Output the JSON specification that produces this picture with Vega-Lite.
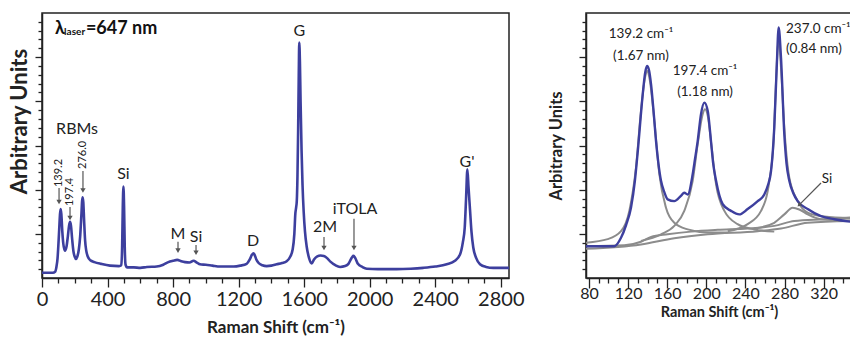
{
  "$schema": "https://vega.github.io/schema/vega-lite/v6.json",
  "padding": {"left": 7, "top": 12, "right": 0, "bottom": 0},
  "background": "white",
  "config": {
    "font": "Lato",
    "view": {"stroke": "#222", "strokeWidth": 1.5},
    "axis": {"grid": false, "domainColor": "#222", "domainWidth": 1.5, "tickColor": "#222", "tickWidth": 1.3, "labelColor": "#222", "titleColor": "#222", "labelFont": "Lato", "titleFont": "Lato", "labelOverlap": false, "labelFlush": false}
  },
  "spacing": 22,
  "datasets": {
    "left": [
      {"shift":0,"intensity":0.12},{"shift":40,"intensity":0.12},{"shift":67,"intensity":0.12},{"shift":80,"intensity":0.14},{"shift":88,"intensity":0.25},{"shift":95,"intensity":0.45},{"shift":100,"intensity":0.75},{"shift":105,"intensity":1.1},{"shift":110,"intensity":1.45},{"shift":114,"intensity":1.56},{"shift":118,"intensity":1.45},{"shift":124,"intensity":1.05},{"shift":130,"intensity":0.78},{"shift":140,"intensity":0.62},{"shift":150,"intensity":0.72},{"shift":158,"intensity":0.95},{"shift":165,"intensity":1.18},{"shift":171,"intensity":1.27},{"shift":177,"intensity":1.18},{"shift":184,"intensity":0.88},{"shift":192,"intensity":0.6},{"shift":200,"intensity":0.48},{"shift":207,"intensity":0.43},{"shift":215,"intensity":0.48},{"shift":225,"intensity":0.65},{"shift":233,"intensity":0.95},{"shift":240,"intensity":1.4},{"shift":245,"intensity":1.75},{"shift":248,"intensity":1.83},{"shift":252,"intensity":1.72},{"shift":257,"intensity":1.3},{"shift":263,"intensity":0.85},{"shift":270,"intensity":0.62},{"shift":280,"intensity":0.48},{"shift":295,"intensity":0.4},{"shift":320,"intensity":0.36},{"shift":360,"intensity":0.32},{"shift":415,"intensity":0.28},{"shift":470,"intensity":0.27},{"shift":484,"intensity":0.29},{"shift":489,"intensity":0.7},{"shift":493,"intensity":1.6},{"shift":497,"intensity":2.07},{"shift":501,"intensity":1.6},{"shift":505,"intensity":0.7},{"shift":510,"intensity":0.3},{"shift":520,"intensity":0.24},{"shift":560,"intensity":0.24},{"shift":600,"intensity":0.23},{"shift":640,"intensity":0.25},{"shift":700,"intensity":0.26},{"shift":740,"intensity":0.3},{"shift":771,"intensity":0.36},{"shift":800,"intensity":0.39},{"shift":825,"intensity":0.41},{"shift":850,"intensity":0.38},{"shift":873,"intensity":0.36},{"shift":900,"intensity":0.35},{"shift":925,"intensity":0.39},{"shift":945,"intensity":0.35},{"shift":964,"intensity":0.31},{"shift":1000,"intensity":0.3},{"shift":1040,"intensity":0.28},{"shift":1086,"intensity":0.26},{"shift":1130,"intensity":0.26},{"shift":1170,"intensity":0.26},{"shift":1210,"intensity":0.28},{"shift":1249,"intensity":0.32},{"shift":1268,"intensity":0.42},{"shift":1282,"intensity":0.53},{"shift":1290,"intensity":0.56},{"shift":1298,"intensity":0.52},{"shift":1308,"intensity":0.42},{"shift":1322,"intensity":0.34},{"shift":1345,"intensity":0.29},{"shift":1371,"intensity":0.27},{"shift":1400,"intensity":0.28},{"shift":1432,"intensity":0.31},{"shift":1465,"intensity":0.34},{"shift":1493,"intensity":0.38},{"shift":1513,"intensity":0.47},{"shift":1530,"intensity":0.65},{"shift":1540,"intensity":1.0},{"shift":1546,"intensity":1.45},{"shift":1551,"intensity":1.6},{"shift":1555,"intensity":1.75},{"shift":1559,"intensity":2.3},{"shift":1563,"intensity":3.3},{"shift":1567,"intensity":4.6},{"shift":1570,"intensity":5.33},{"shift":1574,"intensity":4.9},{"shift":1578,"intensity":4.0},{"shift":1584,"intensity":2.9},{"shift":1590,"intensity":2.1},{"shift":1597,"intensity":1.5},{"shift":1605,"intensity":1.05},{"shift":1615,"intensity":0.72},{"shift":1630,"intensity":0.45},{"shift":1646,"intensity":0.33},{"shift":1660,"intensity":0.42},{"shift":1680,"intensity":0.49},{"shift":1700,"intensity":0.51},{"shift":1720,"intensity":0.5},{"shift":1740,"intensity":0.45},{"shift":1760,"intensity":0.37},{"shift":1790,"intensity":0.29},{"shift":1819,"intensity":0.25},{"shift":1850,"intensity":0.27},{"shift":1870,"intensity":0.32},{"shift":1886,"intensity":0.43},{"shift":1900,"intensity":0.5},{"shift":1912,"intensity":0.45},{"shift":1928,"intensity":0.32},{"shift":1955,"intensity":0.25},{"shift":1982,"intensity":0.21},{"shift":2050,"intensity":0.2},{"shift":2165,"intensity":0.2},{"shift":2250,"intensity":0.21},{"shift":2327,"intensity":0.23},{"shift":2400,"intensity":0.26},{"shift":2470,"intensity":0.31},{"shift":2520,"intensity":0.39},{"shift":2551,"intensity":0.53},{"shift":2568,"intensity":0.8},{"shift":2580,"intensity":1.15},{"shift":2588,"intensity":1.8},{"shift":2596,"intensity":2.46},{"shift":2603,"intensity":2.05},{"shift":2612,"intensity":1.55},{"shift":2621,"intensity":1.05},{"shift":2632,"intensity":0.69},{"shift":2650,"intensity":0.45},{"shift":2673,"intensity":0.31},{"shift":2710,"intensity":0.25},{"shift":2754,"intensity":0.23},{"shift":2800,"intensity":0.23},{"shift":2850,"intensity":0.23}
    ],
    "leftLabels": [
      {"x":214,"y":3.37,"t":"RBMs"},{"x":497,"y":2.35,"t":"Si"},{"x":830,"y":1.0,"t":"M"},{"x":940,"y":0.93,"t":"Si"},{"x":1288,"y":0.84,"t":"D"},{"x":1570,"y":5.59,"t":"G"},{"x":1727,"y":1.15,"t":"2M"},{"x":1910,"y":1.56,"t":"iTOLA"},{"x":2594,"y":2.63,"t":"G'"}
    ],
    "rbmLabels": [
      {"x":104,"y":2.06,"t":"139.2"},{"x":171,"y":1.63,"t":"197.4"},{"x":250,"y":2.47,"t":"276.0"}
    ],
    "leftArrows": [
      {"x":104,"y":2.04,"y2":1.72},{"x":171,"y":1.61,"y2":1.36},{"x":250,"y":2.42,"y2":1.98},{"x":830,"y":0.82,"y2":0.62},{"x":940,"y":0.75,"y2":0.57},{"x":1721,"y":0.93,"y2":0.68},{"x":1904,"y":1.34,"y2":0.68}
    ],
    "lambda": [{"x":79,"y":5.64,"t":"λ"}],
    "laser": [{"x":135,"y":5.56,"t":"laser"}],
    "nm": [{"x":268,"y":5.64,"t":"=647 nm"}],
    "right": [
      {"shift":77,"intensity":0.72},{"shift":90,"intensity":0.72},{"shift":106,"intensity":0.72},{"shift":112.8,"intensity":0.91},{"shift":118,"intensity":1.2},{"shift":123,"intensity":1.59},{"shift":127,"intensity":2.2},{"shift":130,"intensity":2.88},{"shift":135,"intensity":4.16},{"shift":137.5,"intensity":4.65},{"shift":139.4,"intensity":4.8},{"shift":141.5,"intensity":4.7},{"shift":143.5,"intensity":4.39},{"shift":146,"intensity":3.8},{"shift":148.6,"intensity":3.1},{"shift":151,"intensity":2.6},{"shift":153.7,"intensity":2.2},{"shift":157,"intensity":1.95},{"shift":160.5,"intensity":1.78},{"shift":167.3,"intensity":1.74},{"shift":174.1,"intensity":1.86},{"shift":177.5,"intensity":1.93},{"shift":181,"intensity":1.89},{"shift":186.1,"intensity":2.35},{"shift":188.5,"intensity":2.7},{"shift":191.2,"intensity":3.1},{"shift":194.6,"intensity":3.71},{"shift":198,"intensity":3.97},{"shift":201.5,"intensity":3.78},{"shift":204.8,"intensity":3.1},{"shift":207,"intensity":2.6},{"shift":210,"intensity":2.2},{"shift":216.8,"intensity":1.67},{"shift":225.3,"intensity":1.52},{"shift":233.7,"intensity":1.44},{"shift":242.3,"intensity":1.56},{"shift":252.6,"intensity":1.74},{"shift":259.3,"intensity":1.89},{"shift":263,"intensity":2.1},{"shift":266.2,"intensity":2.42},{"shift":269.5,"intensity":3.4},{"shift":272,"intensity":4.76},{"shift":274,"intensity":5.67},{"shift":276.4,"intensity":4.99},{"shift":279.8,"intensity":3.25},{"shift":282,"intensity":2.6},{"shift":284.9,"intensity":2.2},{"shift":289,"intensity":1.92},{"shift":293.5,"intensity":1.74},{"shift":303.7,"intensity":1.56},{"shift":317.3,"intensity":1.4},{"shift":331,"intensity":1.33},{"shift":349,"intensity":1.27}
    ],
    "fits": [
      {"series":"base1","shift":77,"intensity":0.72},{"series":"base1","shift":116.2,"intensity":0.74},{"series":"base1","shift":133.2,"intensity":0.82},{"series":"base1","shift":143.5,"intensity":0.93},{"series":"base1","shift":160.5,"intensity":0.99},{"series":"base1","shift":184.4,"intensity":1.05},{"series":"base1","shift":211.7,"intensity":1.09},{"series":"base1","shift":242.3,"intensity":1.12},{"series":"base1","shift":269.5,"intensity":1.18},{"series":"base1","shift":290,"intensity":1.29},{"series":"base1","shift":320.7,"intensity":1.33},{"series":"base1","shift":349,"intensity":1.37},
      {"series":"base2","shift":77,"intensity":0.66},{"series":"base2","shift":133.2,"intensity":0.76},{"series":"base2","shift":167.3,"intensity":0.9},{"series":"base2","shift":201.5,"intensity":0.99},{"series":"base2","shift":252.6,"intensity":1.06},{"series":"base2","shift":276.4,"intensity":1.12},{"series":"base2","shift":303.7,"intensity":1.25},{"series":"base2","shift":349,"intensity":1.29},
      {"series":"c139","shift":77,"intensity":0.8},{"series":"c139","shift":99.2,"intensity":0.88},{"series":"c139","shift":112.8,"intensity":1.06},{"series":"c139","shift":121.3,"intensity":1.52},{"series":"c139","shift":128.1,"intensity":2.5},{"series":"c139","shift":133.2,"intensity":3.78},{"series":"c139","shift":137.3,"intensity":4.53},{"series":"c139","shift":139.4,"intensity":4.69},{"series":"c139","shift":142.1,"intensity":4.5},{"series":"c139","shift":146.9,"intensity":3.55},{"series":"c139","shift":152,"intensity":2.35},{"series":"c139","shift":158.8,"intensity":1.59},{"series":"c139","shift":167.3,"intensity":1.25},{"series":"c139","shift":181,"intensity":1.1},{"series":"c139","shift":201.5,"intensity":1.03},{"series":"c139","shift":222,"intensity":1.03},
      {"series":"c197","shift":133.2,"intensity":0.84},{"series":"c197","shift":153.7,"intensity":0.99},{"series":"c197","shift":167.3,"intensity":1.18},{"series":"c197","shift":177.5,"intensity":1.52},{"series":"c197","shift":186.1,"intensity":2.2},{"series":"c197","shift":191.2,"intensity":3.03},{"series":"c197","shift":196.3,"intensity":3.71},{"series":"c197","shift":198.7,"intensity":3.82},{"series":"c197","shift":201.5,"intensity":3.67},{"series":"c197","shift":205.5,"intensity":2.95},{"series":"c197","shift":210,"intensity":2.12},{"series":"c197","shift":218.5,"intensity":1.52},{"series":"c197","shift":232,"intensity":1.22},{"series":"c197","shift":249.1,"intensity":1.1},{"series":"c197","shift":269.5,"intensity":1.05},
      {"series":"c276","shift":221.9,"intensity":1.06},{"series":"c276","shift":242.3,"intensity":1.22},{"series":"c276","shift":256,"intensity":1.52},{"series":"c276","shift":264.5,"intensity":2.2},{"series":"c276","shift":269,"intensity":3.17},{"series":"c276","shift":271.6,"intensity":4.61},{"series":"c276","shift":274,"intensity":5.44},{"series":"c276","shift":276.4,"intensity":4.76},{"series":"c276","shift":279.8,"intensity":3.4},{"series":"c276","shift":284.9,"intensity":2.27},{"series":"c276","shift":293.5,"intensity":1.74},{"series":"c276","shift":303.7,"intensity":1.48},{"series":"c276","shift":320.7,"intensity":1.39},{"series":"c276","shift":349,"intensity":1.35},
      {"series":"cSi","shift":249.1,"intensity":1.12},{"series":"cSi","shift":269.5,"intensity":1.25},{"series":"cSi","shift":279.8,"intensity":1.44},{"series":"cSi","shift":288.3,"intensity":1.59},{"series":"cSi","shift":295.1,"intensity":1.55},{"series":"cSi","shift":303.7,"intensity":1.44},{"series":"cSi","shift":317.3,"intensity":1.33},{"series":"cSi","shift":349,"intensity":1.3}
    ],
    "rightCenter": [
      {"x":133.2,"y":5.52,"t":"139.2 cm⁻¹"},{"x":133.2,"y":5.03,"t":"(1.67 nm)"},{"x":198.7,"y":4.69,"t":"197.4 cm⁻¹"},{"x":198.7,"y":4.21,"t":"(1.18 nm)"},{"x":323.4,"y":2.24,"t":"Si"}
    ],
    "rightLeft": [
      {"x":281.5,"y":5.64,"t":"237.0 cm⁻¹"},{"x":281.5,"y":5.18,"t":"(0.84 nm)"}
    ],
    "pointer": [{"x":317.3,"y":2.15,"x2":294.8,"y2":1.65}]
  },
  "hconcat": [
    {
      "width": 467,
      "height": 265,
      "resolve": {"axis": {"x": "independent", "y": "independent"}},
      "layer": [
        {
          "data": {"name": "left"},
          "mark": {"type": "line", "color": "#3d3f9e", "strokeWidth": 2.6, "interpolate": "monotone"},
          "encoding": {
            "x": {"field": "shift", "type": "quantitative", "scale": {"domain": [0, 2850], "nice": false, "zero": false},
              "axis": {"orient": "bottom", "title": "Raman Shift (cm⁻¹)", "titleFontSize": 17, "titleFontWeight": "bold", "titlePadding": 10,
                "values": [0,400,800,1200,1600,2000,2400,2800], "format": "d", "labelFontSize": 20, "labelPadding": 2, "tickSize": 9}},
            "y": {"field": "intensity", "type": "quantitative", "scale": {"domain": [0, 6], "nice": false, "zero": false},
              "axis": {"orient": "left", "title": "Arbitrary Units", "titleFontSize": 22, "titleFontWeight": "bold", "titlePadding": 3, "titleY": 108, "titleAlign": "center", "labels": false,
                "values": [1,2,3,4,5], "tickSize": 7}}
          }
        },
        {
          "data": {"name": "leftArrows"},
          "mark": {"type": "rule", "color": "#555", "strokeWidth": 1.2},
          "encoding": {
            "x": {"field": "x", "type": "quantitative",
              "axis": {"orient": "bottom", "title": null, "labels": false, "domain": false, "tickSize": 5,
                "values": [100,200,300,500,600,700,900,1000,1100,1300,1400,1500,1700,1800,1900,2100,2200,2300,2500,2600,2700]}},
            "y": {"field": "y", "type": "quantitative",
              "axis": {"orient": "left", "title": null, "labels": false, "domain": false, "tickSize": 4,
                "values": [0.2,0.4,0.6,0.8,1.2,1.4,1.6,1.8,2.2,2.4,2.6,2.8,3.2,3.4,3.6,3.8,4.2,4.4,4.6,4.8,5.2,5.4,5.6,5.8]}},
            "y2": {"field": "y2"}
          }
        },
        {
          "data": {"name": "leftArrows"},
          "mark": {"type": "point", "shape": "triangle-down", "filled": true, "color": "#555", "size": 28, "opacity": 1},
          "encoding": {"x": {"field": "x", "type": "quantitative", "axis": null}, "y": {"field": "y2", "type": "quantitative", "axis": null}}
        },
        {
          "data": {"name": "leftLabels"},
          "mark": {"type": "text", "fontSize": 16, "color": "#222", "align": "center", "baseline": "middle"},
          "encoding": {"x": {"field": "x", "type": "quantitative", "axis": null}, "y": {"field": "y", "type": "quantitative", "axis": null}, "text": {"field": "t"}}
        },
        {
          "data": {"name": "rbmLabels"},
          "mark": {"type": "text", "fontSize": 11, "color": "#222", "align": "left", "baseline": "middle", "angle": 270},
          "encoding": {"x": {"field": "x", "type": "quantitative", "axis": null}, "y": {"field": "y", "type": "quantitative", "axis": null}, "text": {"field": "t"}}
        },
        {
          "data": {"name": "lambda"},
          "mark": {"type": "text", "fontSize": 18, "fontWeight": "bold", "color": "#111", "align": "left", "baseline": "middle"},
          "encoding": {"x": {"field": "x", "type": "quantitative", "axis": null}, "y": {"field": "y", "type": "quantitative", "axis": null}, "text": {"field": "t"}}
        },
        {
          "data": {"name": "laser"},
          "mark": {"type": "text", "fontSize": 10, "fontWeight": "bold", "color": "#111", "align": "left", "baseline": "middle"},
          "encoding": {"x": {"field": "x", "type": "quantitative", "axis": null}, "y": {"field": "y", "type": "quantitative", "axis": null}, "text": {"field": "t"}}
        },
        {
          "data": {"name": "nm"},
          "mark": {"type": "text", "fontSize": 18, "fontWeight": "bold", "color": "#111", "align": "left", "baseline": "middle"},
          "encoding": {"x": {"field": "x", "type": "quantitative", "axis": null}, "y": {"field": "y", "type": "quantitative", "axis": null}, "text": {"field": "t"}}
        }
      ]
    },
    {
      "width": 266,
      "height": 265,
      "resolve": {"axis": {"x": "independent", "y": "independent"}},
      "layer": [
        {
          "data": {"name": "fits"},
          "mark": {"type": "line", "color": "#8c8c8c", "strokeWidth": 2, "interpolate": "monotone"},
          "encoding": {
            "x": {"field": "shift", "type": "quantitative", "scale": {"domain": [77, 349], "nice": false, "zero": false},
              "axis": {"orient": "bottom", "title": "Raman Shift (cm⁻¹)", "titleFontSize": 14.5, "titleFontWeight": "bold", "titlePadding": 4,
                "values": [80,120,160,200,240,280,320], "format": "d", "labelFontSize": 16, "labelPadding": -3, "tickSize": 10}},
            "y": {"field": "intensity", "type": "quantitative", "scale": {"domain": [0, 6], "nice": false, "zero": false},
              "axis": {"orient": "left", "title": "Arbitrary Units", "titleFontSize": 16.5, "titleFontWeight": "bold", "titlePadding": 14, "labels": false,
                "values": [1,2,3,4,5], "tickSize": 7}},
            "detail": {"field": "series", "type": "nominal"}
          }
        },
        {
          "data": {"name": "right"},
          "mark": {"type": "line", "color": "#3d3f9e", "strokeWidth": 2.4, "interpolate": "monotone"},
          "encoding": {
            "x": {"field": "shift", "type": "quantitative",
              "axis": {"orient": "bottom", "title": null, "labels": false, "domain": false, "tickSize": 5,
                "values": [90,100,110,130,140,150,170,180,190,210,220,230,250,260,270,290,300,310,330,340]}},
            "y": {"field": "intensity", "type": "quantitative",
              "axis": {"orient": "left", "title": null, "labels": false, "domain": false, "tickSize": 4,
                "values": [0.2,0.4,0.6,0.8,1.2,1.4,1.6,1.8,2.2,2.4,2.6,2.8,3.2,3.4,3.6,3.8,4.2,4.4,4.6,4.8,5.2,5.4,5.6,5.8]}}
          }
        },
        {
          "data": {"name": "pointer"},
          "mark": {"type": "rule", "color": "#555", "strokeWidth": 1.2},
          "encoding": {"x": {"field": "x", "type": "quantitative", "axis": null}, "y": {"field": "y", "type": "quantitative", "axis": null}, "x2": {"field": "x2"}, "y2": {"field": "y2"}}
        },
        {
          "data": {"name": "pointer"},
          "mark": {"type": "point", "shape": "triangle-up", "filled": true, "color": "#555", "size": 22, "angle": 225, "opacity": 1},
          "encoding": {"x": {"field": "x2", "type": "quantitative", "axis": null}, "y": {"field": "y2", "type": "quantitative", "axis": null}}
        },
        {
          "data": {"name": "rightCenter"},
          "mark": {"type": "text", "fontSize": 13.5, "color": "#222", "align": "center", "baseline": "middle"},
          "encoding": {"x": {"field": "x", "type": "quantitative", "axis": null}, "y": {"field": "y", "type": "quantitative", "axis": null}, "text": {"field": "t"}}
        },
        {
          "data": {"name": "rightLeft"},
          "mark": {"type": "text", "fontSize": 13.5, "color": "#222", "align": "left", "baseline": "middle"},
          "encoding": {"x": {"field": "x", "type": "quantitative", "axis": null}, "y": {"field": "y", "type": "quantitative", "axis": null}, "text": {"field": "t"}}
        }
      ]
    }
  ]
}
